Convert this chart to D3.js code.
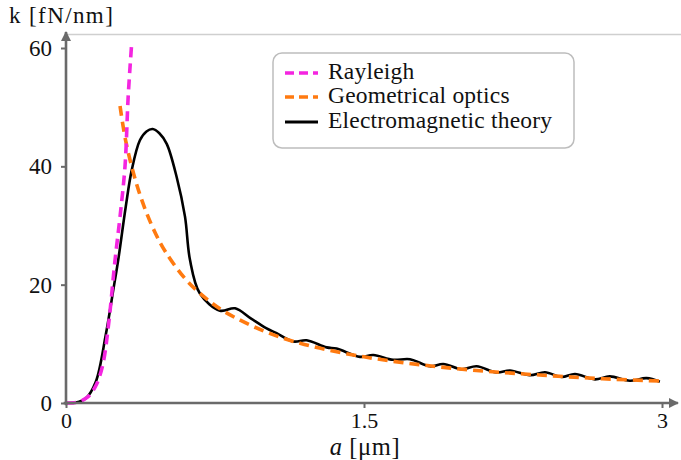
<!DOCTYPE html>
<html>
<head>
<meta charset="utf-8">
<script src="https://cdn.jsdelivr.net/npm/d3@7"></script>
<style>
  html, body { margin: 0; padding: 0; background: #fff; }
  svg { display: block; }
  text { font-family: "Liberation Serif", "Times New Roman", serif; fill: #111; }
</style>
</head>
<body>
<svg id="chart" width="681" height="460"></svg>
<script>
// Trap stiffness k [fN/nm] versus particle radius a [µm]

// Rayleigh (small-particle) approximation
const rayleighA = [0, 0.05, 0.07, 0.10, 0.12, 0.145, 0.163, 0.188, 0.215, 0.247, 0.272, 0.297, 0.313, 0.330];
const rayleighK = [0, 0.08, 0.25, 0.8, 1.35, 2.6, 3.9, 6.9, 13.5, 24.2, 31.5, 40.0, 51.8, 60.5];

// Geometrical-optics approximation
const geoA = [0.272, 0.30, 0.35, 0.40, 0.45, 0.50, 0.60, 0.70, 0.80, 1.00, 1.20, 1.50, 1.80, 2.10, 2.40, 2.70, 3.00];
const geoK = [50.2, 44.4, 37.6, 32.6, 28.7, 25.6, 21.0, 17.8, 15.4, 12.1, 9.9, 7.8, 6.4, 5.4, 4.7, 4.1, 3.7];

// Full electromagnetic theory
const emA = [0, 0.05, 0.10, 0.15, 0.20, 0.24, 0.263, 0.30, 0.331, 0.372, 0.405, 0.436, 0.47, 0.507,
             0.557, 0.599, 0.624, 0.674, 0.775, 0.851, 0.93, 1.010, 1.060, 1.144, 1.211, 1.312, 1.362,
             1.480, 1.547, 1.646, 1.731, 1.832, 1.899, 1.991, 2.067, 2.168, 2.235, 2.335, 2.411,
             2.495, 2.562, 2.662, 2.737, 2.838, 2.922, 2.989];
const emK = [0, 0.08, 0.8, 3.6, 11.5, 19.5, 24.2, 33.0, 39.4, 44.4, 45.9, 46.3, 45.6, 43.8,
             38.2, 31.5, 24.2, 18.5, 15.6, 16.0, 14.3, 12.6, 11.8, 10.4, 10.6, 9.4, 9.2,
             7.8, 8.1, 7.3, 7.4, 6.2, 6.6, 5.7, 6.2, 5.15, 5.5, 4.7, 5.2,
             4.4, 4.9, 4.0, 4.5, 3.75, 4.2, 3.6];

const xTicks = [0, 1.5, 3];
const xTickLabels = ["0", "1.5", "3"];
const yTicks = [0, 20, 40, 60];
const yTickLabels = ["0", "20", "40", "60"];

const legendNames = ["Rayleigh", "Geometrical optics", "Electromagnetic theory"];
const legendColors = ["#f425e0", "#ff7a10", "#000000"];
const legendDashes = ["9,5", "9,5", null];

const svg = d3.select("#chart");
const x = d3.scaleLinear().domain([0, 3]).range([66, 662]);
const y = d3.scaleLinear().domain([0, 60]).range([403, 48]);

const axisColor = "#6a6a6a";

// Arrow heads for the axes
const defs = svg.append("defs");
defs.append("marker")
  .attr("id", "arrow")
  .attr("viewBox", "0 0 10 10")
  .attr("refX", 9).attr("refY", 5)
  .attr("markerWidth", 4).attr("markerHeight", 4)
  .attr("markerUnits", "strokeWidth")
  .attr("orient", "auto")
  .append("path").attr("d", "M0,0 L10,5 L0,10 Z").attr("fill", axisColor);

// Light frame line along the top of the plot area
svg.append("line")
  .attr("x1", x(0)).attr("x2", 681)
  .attr("y1", y(62.3)).attr("y2", y(62.3))
  .attr("stroke", "#cfcfcf").attr("stroke-width", 1.5);

// Curves
const pts = (as, ks) => as.map((a, i) => [a, ks[i]]);
const line = d3.line().x(d => x(d[0])).y(d => y(d[1])).curve(d3.curveCatmullRom.alpha(0.5));

svg.append("path")
  .datum(pts(emA, emK))
  .attr("d", line)
  .attr("fill", "none").attr("stroke", legendColors[2])
  .attr("stroke-width", 2.6).attr("stroke-linejoin", "round");

svg.append("path")
  .datum(pts(geoA, geoK))
  .attr("d", line)
  .attr("fill", "none").attr("stroke", legendColors[1])
  .attr("stroke-width", 3.6).attr("stroke-dasharray", "10,6");

svg.append("path")
  .datum(pts(rayleighA, rayleighK))
  .attr("d", line)
  .attr("fill", "none").attr("stroke", legendColors[0])
  .attr("stroke-width", 3.6).attr("stroke-dasharray", "10,6");

// Axes
const xAxis = d3.axisBottom(x).tickValues(xTicks)
  .tickFormat((d, i) => xTickLabels[i]).tickSize(5).tickPadding(4).tickSizeOuter(0);
const gx = svg.append("g").attr("transform", `translate(0,${y(0)})`).call(xAxis);
gx.select(".domain").remove();
gx.selectAll(".tick line").attr("stroke", axisColor).attr("stroke-width", 2);
gx.selectAll(".tick text").attr("font-size", 22).attr("font-family", "Liberation Serif").attr("fill", "#111");

const yAxis = d3.axisLeft(y).tickValues(yTicks)
  .tickFormat((d, i) => yTickLabels[i]).tickSize(5).tickPadding(9).tickSizeOuter(0);
const gy = svg.append("g").attr("transform", `translate(${x(0)},0)`).call(yAxis);
gy.select(".domain").remove();
gy.selectAll(".tick line").attr("stroke", axisColor).attr("stroke-width", 2);
gy.selectAll(".tick text").attr("font-size", 23).attr("font-family", "Liberation Serif").attr("fill", "#111");

// Axis lines with arrows
svg.append("line")
  .attr("x1", x(-0.012)).attr("x2", x(3.08))
  .attr("y1", y(0)).attr("y2", y(0))
  .attr("stroke", axisColor).attr("stroke-width", 2.6)
  .attr("marker-end", "url(#arrow)");
svg.append("line")
  .attr("x1", x(0)).attr("x2", x(0))
  .attr("y1", y(-0.4)).attr("y2", y(62.7))
  .attr("stroke", axisColor).attr("stroke-width", 2.6)
  .attr("marker-end", "url(#arrow)");

// Axis titles
svg.append("text")
  .attr("x", 9).attr("y", 23)
  .attr("font-size", 23).attr("letter-spacing", 1.4)
  .text("k [fN/nm]");

const xt = svg.append("text")
  .attr("x", x(1.5) + 1).attr("y", 455)
  .attr("text-anchor", "middle")
  .attr("font-size", 24.5)
  .attr("letter-spacing", 0.6);
xt.append("tspan").attr("font-style", "italic").text("a");
xt.append("tspan").text(" [μm]");

// Legend
const lg = svg.append("g").attr("transform", "translate(273,53)");
lg.append("rect")
  .attr("width", 301).attr("height", 95)
  .attr("rx", 9).attr("ry", 9)
  .attr("fill", "#fff").attr("stroke", "#bdbdbd").attr("stroke-width", 1.5);

const rowY = [20, 44, 69];
legendNames.forEach((name, i) => {
  const row = lg.append("g").attr("transform", `translate(0,${rowY[i]})`);
  row.append("line")
    .attr("x1", 12).attr("x2", 45)
    .attr("stroke", legendColors[i])
    .attr("stroke-width", legendDashes[i] ? 3.4 : 3)
    .attr("stroke-dasharray", legendDashes[i]);
  row.append("text")
    .attr("x", 55).attr("y", 6)
    .attr("font-size", 23.5)
    .attr("letter-spacing", 0.2)
    .text(name);
});
</script>
</body>
</html>
